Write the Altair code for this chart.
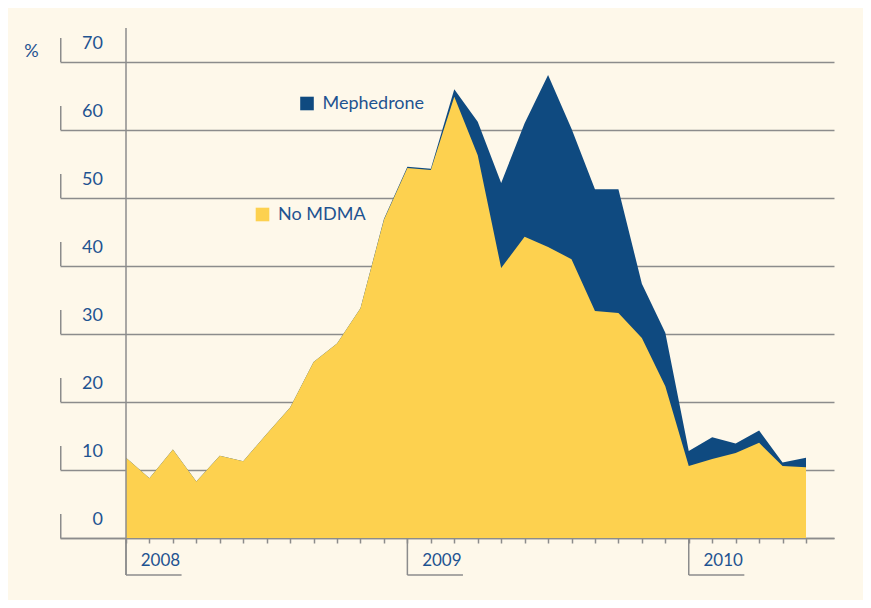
import altair as alt
import pandas as pd

# ---- data ----
month_index = list(range(30))  # Jan 2008 .. Jun 2010
no_mdma = [11.8, 8.8, 13.0, 8.3, 12.1, 11.3, 15.3, 19.2, 25.9, 28.6,
           33.8, 46.8, 54.4, 54.1, 64.9, 56.3, 39.7, 44.3, 42.8, 41.0,
           33.4, 33.1, 29.4, 22.3, 10.6, 11.6, 12.5, 14.0, 10.6, 10.4]
mephedrone = [0, 0, 0, 0, 0, 0, 0, 0, 0, 0,
              0, 0.1, 0.2, 0.2, 1.1, 4.9, 12.5, 16.7, 25.3, 19.2,
              17.9, 18.2, 8.0, 7.9, 2.2, 3.2, 1.4, 1.8, 0.5, 1.4]
y_ticks = [0, 10, 20, 30, 40, 50, 60, 70]
years = ["2008", "2009", "2010"]
year_pos = [0, 12, 24]
legend_names = ["Mephedrone", "No MDMA"]

YELLOW = "#FDD14F"
BLUE = "#0F4A80"
TEXT = "#1E5391"
GRID = "#8C8C8C"
BG = "#FEF8EA"
FONT = "Lato"

df = pd.DataFrame({"m": month_index, "nomdma": no_mdma, "meph": mephedrone})
df["total"] = df["nomdma"] + df["meph"]
ticks_df = pd.DataFrame({"v": y_ticks})
years_df = pd.DataFrame({"label": years, "pos": year_pos})

xs = alt.Scale(domain=[-2.8147, 30.194], nice=False, zero=False)
ys = alt.Scale(domain=[0, 70], nice=False)
XA = alt.Axis(values=month_index, labels=False, tickSize=5,
              tickColor=GRID, tickWidth=1.5, domainColor=GRID,
              domainWidth=1.5, grid=False, title="")
YA = alt.Axis(values=y_ticks, labels=False, ticks=False,
              domain=False, grid=True, gridColor=GRID,
              gridWidth=1.5, gridOpacity=1, title="")


def X(field):
    return alt.X(field, scale=xs, axis=XA, title="")


def Y(field):
    return alt.Y(field, scale=ys, axis=YA, title="")


base = alt.Chart(df)

blue_area = base.mark_area(color=BLUE, interpolate="linear").encode(
    x=X("m:Q"), y=Y("total:Q"))
yellow_area = base.mark_area(color=YELLOW, interpolate="linear").encode(
    x=X("m:Q"), y=Y("nomdma:Q"))

# y labels and their little brackets
ylab = alt.Chart(ticks_df).mark_text(
    align="right", baseline="middle", dy=-18, fontSize=18, font=FONT, color=TEXT
).encode(x=alt.value(43), y=Y("v:Q"), text="v:Q")
ybr = alt.Chart(ticks_df).transform_calculate(v2="datum.v + 3.53").mark_rule(
    color=GRID, strokeWidth=1.5
).encode(x=alt.value(0.75), y=Y("v:Q"), y2="v2:Q")

# vertical axis line at Jan 2008
vline = alt.Chart(years_df.head(1)).mark_rule(color=GRID, strokeWidth=1.5).encode(
    x=X("pos:Q"), y=alt.value(-34), y2=alt.value(513)
)

# year brackets and labels
yr_v = alt.Chart(years_df).mark_rule(color=GRID, strokeWidth=1.5).encode(
    x=X("pos:Q"), y=alt.value(476), y2=alt.value(513)
)
yr_h = alt.Chart(years_df).transform_calculate(p2="datum.pos + 2.37").mark_rule(
    color=GRID, strokeWidth=1.5
).encode(x=X("pos:Q"), x2="p2:Q", y=alt.value(513))
yr_t = alt.Chart(years_df).transform_calculate(pc="datum.pos + 1.47").mark_text(
    align="center", baseline="middle", fontSize=17, font=FONT, color=TEXT
).encode(x=X("pc:Q"), y=alt.value(499), text="label:N")

# percent sign
pct = alt.Chart(pd.DataFrame({"t": ["%"]})).mark_text(
    align="center", baseline="middle", fontSize=18, font=FONT, color=TEXT
).encode(x=alt.value(-28.5), y=alt.value(-10.5), text="t:N")


# legend (two items placed in the plot area)
def legend_item(name, color, sx, sy, tx):
    d = pd.DataFrame({"name": [name]})
    sq = alt.Chart(d).mark_square(size=185, opacity=1, color=color).encode(
        x=alt.value(sx), y=alt.value(sy))
    tt = alt.Chart(d).mark_text(
        align="left", baseline="middle", fontSize=18, font=FONT, color=TEXT
    ).encode(x=alt.value(tx), y=alt.value(sy), text="name:N")
    return [sq, tt]


leg = legend_item(legend_names[0], BLUE, 247, 41.5, 262.5) + \
    legend_item(legend_names[1], YELLOW, 202.5, 152.5, 218)

chart = alt.layer(
    blue_area, yellow_area, ybr, ylab, vline, yr_v, yr_h, yr_t, pct, *leg
).properties(
    width=774, height=476,
    autosize=alt.AutoSizeParams(type="none"),
    padding={"left": 52, "top": 54, "right": 29, "bottom": 62},
    background=BG,
).configure_view(strokeWidth=0)

chart.save("out.html", embed_options={"renderer": "svg", "actions": False})
